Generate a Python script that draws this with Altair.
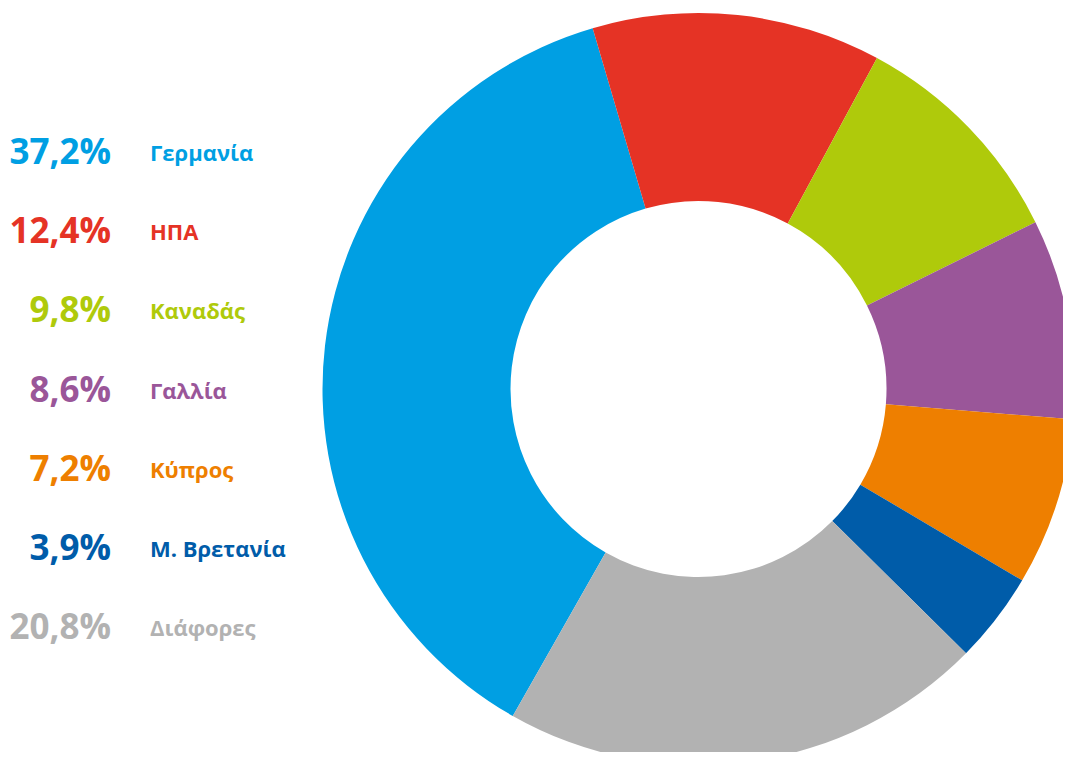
import math
import altair as alt
import pandas as pd

countries = ["Γερμανία", "ΗΠΑ", "Καναδάς", "Γαλλία", "Κύπρος", "Μ. Βρετανία", "Διάφορες"]
shares = [37.2, 12.4, 9.8, 8.6, 7.2, 3.9, 20.8]
colors = ["#009FE3", "#E53325", "#AFCA0B", "#9A5699", "#EE7F00", "#005CA9", "#B2B2B2"]

df = pd.DataFrame({
    "country": countries,
    "share": shares,
    "order": list(range(len(countries))),
    "pct": [f"{v:.1f}".replace(".", ",") + "%" for v in shares],
})

start = math.radians(209.6)
color_enc = alt.Color("country:N", scale=alt.Scale(domain=countries, range=colors), legend=None)

base = alt.Chart(df)

donut = base.mark_arc(radius=376, innerRadius=188, stroke=None).encode(
    theta=alt.Theta("share:Q", stack=True, scale=alt.Scale(range=[start, start + 2 * math.pi])),
    order=alt.Order("order:Q", sort="ascending"),
    color=color_enc,
    x=alt.value(690.5),
    y=alt.value(381),
)

ypos = alt.Y("order:Q", scale=alt.Scale(domain=[0, 6], range=[145, 620]), axis=None)

pct_text = base.mark_text(
    align="right", baseline="middle", font="Open Sans", fontWeight="bold", fontSize=35
).encode(
    x=alt.value(103),
    y=ypos,
    text="pct:N",
    color=color_enc,
)

name_text = base.mark_text(
    align="left", baseline="middle", font="Open Sans", fontWeight="bold", fontSize=22, dy=1
).encode(
    x=alt.value(142),
    y=ypos,
    text="country:N",
    color=color_enc,
)

chart = alt.layer(donut, pct_text, name_text).properties(
    width=1055, height=744, autosize=alt.AutoSizeParams(type="none"), padding=0
).configure_view(stroke=None)

chart.save("out.html", embed_options={"renderer": "svg", "actions": False})
